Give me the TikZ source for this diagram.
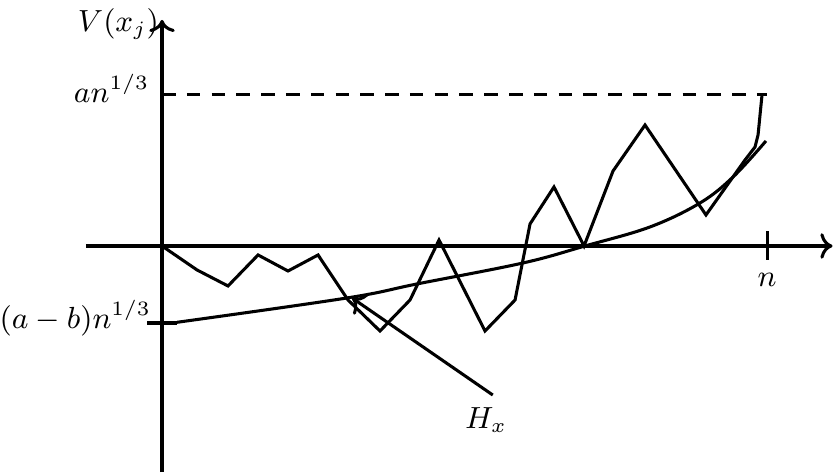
\documentclass[tikz,border=0pt]{standalone}
\usepackage{amsmath, amssymb}
\usepackage{tikz}
\usetikzlibrary{arrows.meta, positioning, calc}

\begin{document}
\begin{tikzpicture}[
  line width=0.9pt,
  axis/.style={->},
  walk/.style={line join=miter},
  barrier/.style={},
  lab/.style={anchor=base east},
  every node/.style={font=\fontsize{8.7pt}{10.5pt}\selectfont}
]
\useasboundingbox (-1.677,-2.370) rectangle (6.955,2.546);

%% ── AXES ────────────────────────────────────────────────────────
\draw[axis] (-0.787,0) -- (6.94,0);
\draw[axis] (0,-2.34) -- (0,2.34);
\node[lab, inner sep=0.5pt] (vlab) at (0,2.215) {$V(x_j)$};

%% n tick
\draw (6.262,0.15) -- (6.262,-0.15)
  node[below] (nlab) {$n$};

%% ── LEVEL an^{1/3} ──────────────────────────────────────────────
\draw[dash pattern=on 4pt off 3.3pt] (0,1.563) -- (6.262,1.563);
\node[lab] (alab) at (0,1.490) {$an^{1/3}$};

%% ── LEVEL (a-b)n^{1/3} ──────────────────────────────────────────
\draw (-0.155,-0.797) -- (0.155,-0.797);
\node[lab] (ablab) at (0.02,-0.849) {$(a-b)n^{1/3}$};

%% ── CURVE (lower barrier) ───────────────────────────────────────
\draw[barrier] plot[smooth, tension=0.6] coordinates {
  (0.155,-0.790) (1.915,-0.538) (2.639,-0.393) (3.736,-0.176)
  (4.378,0) (5.051,0.197) (5.568,0.445) (5.910,0.714) (6.251,1.087)};

%% ── RANDOM WALK ─────────────────────────────────────────────────
\draw[walk]
  (0,0) -- (0.362,-0.248) -- (0.683,-0.414) -- (0.994,-0.093)
  -- (1.304,-0.259) -- (1.615,-0.093) -- (1.925,-0.559)
  -- (2.256,-0.880) -- (2.567,-0.559) -- (2.867,0.062)
  -- (3.343,-0.880) -- (3.654,-0.559) -- (3.809,0.228)
  -- (4.057,0.611) -- (4.368,0) -- (4.668,0.776)
  -- (4.999,1.252) -- (5.630,0.321) -- (6.034,0.890)
  -- (6.138,1.025) -- (6.169,1.149) -- (6.210,1.563);

%% ── LABEL H_x ───────────────────────────────────────────────────
\node (hx) at (3.353,-1.801) {$H_x$};
\coordinate (hxtip) at (1.967,-0.538);
\draw[->] ([xshift=2pt]hx.north) -- (hxtip);

\end{tikzpicture}
\end{document}
